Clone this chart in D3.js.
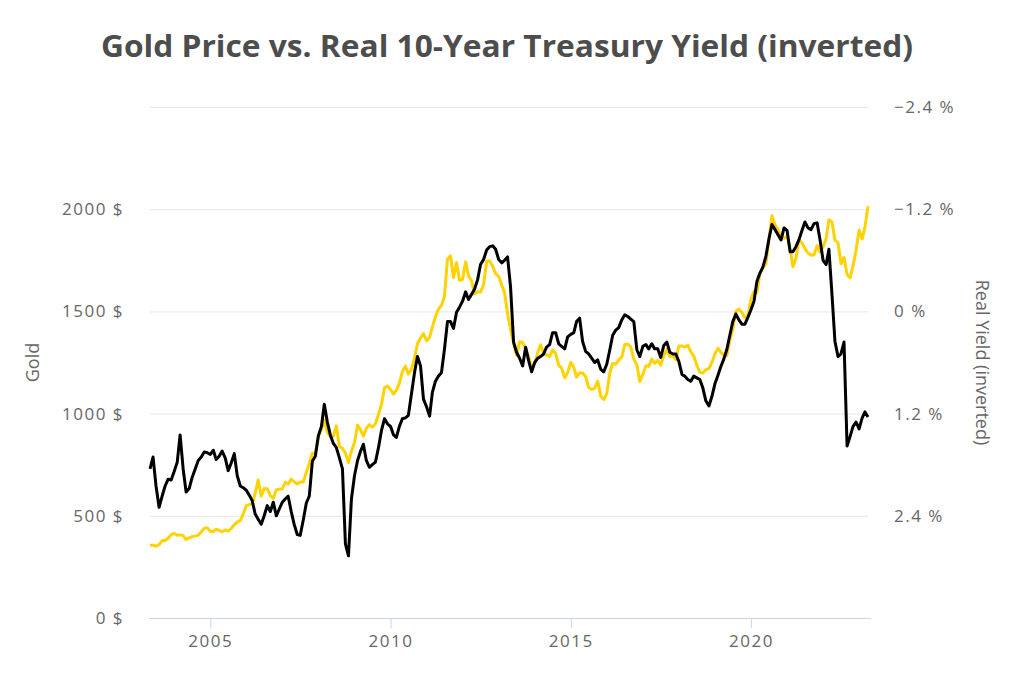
<!DOCTYPE html>
<html>
<head>
<meta charset="utf-8">
<script src="https://cdn.jsdelivr.net/npm/d3@7"></script>
<style>
  body { margin: 0; background: #fff; }
  svg text { font-family: "Open Sans", "Noto Sans", sans-serif; }
</style>
</head>
<body>
<div id="chart"></div>
<script>
// monthly points, May 2003 .. Apr 2023
const startMonth = '2003-05';
const endMonth = '2023-04';

// gold price, USD / oz
const goldPrice = [
  355.7, 356.4, 351.0, 359.8, 378.9, 378.9, 389.9, 407.6,
  413.8, 404.9, 406.7, 403.3, 383.8, 392.4, 398.1, 400.5, 405.3, 420.5, 439.4, 442.1,
  424.0, 423.4, 434.2, 428.9, 421.9, 430.7, 424.5, 437.9, 456.0, 469.9, 476.7, 509.8,
  549.9, 555.0, 557.1, 610.6, 675.4, 596.2, 633.7, 632.6, 598.2, 585.8, 627.8, 629.8,
  631.2, 664.8, 654.9, 679.4, 666.9, 655.5, 665.3, 665.4, 712.7, 754.6, 806.3, 803.2,
  889.6, 922.3, 968.4, 909.7, 888.7, 889.5, 939.8, 839.0, 829.9, 806.6, 760.9, 816.1,
  858.7, 943.2, 924.3, 890.2, 928.6, 945.7, 934.2, 949.4, 996.6, 1043.2, 1127.0, 1134.7,
  1118.0, 1095.4, 1113.3, 1148.7, 1205.4, 1232.9, 1193.0, 1215.8, 1271.0, 1342.0, 1369.9, 1391.0,
  1356.4, 1372.7, 1424.0, 1473.8, 1510.4, 1528.7, 1572.8, 1755.8, 1771.9, 1665.2, 1739.0, 1652.3,
  1656.1, 1742.6, 1673.8, 1650.1, 1585.5, 1596.7, 1594.3, 1630.3, 1744.8, 1746.6, 1721.6, 1684.8,
  1671.9, 1627.6, 1593.1, 1487.9, 1414.0, 1343.4, 1285.5, 1351.7, 1348.6, 1316.6, 1275.8, 1221.5,
  1244.3, 1299.6, 1336.1, 1299.0, 1287.5, 1279.1, 1310.6, 1295.1, 1236.6, 1222.5, 1175.3, 1200.6,
  1250.8, 1227.1, 1178.6, 1198.9, 1198.6, 1181.5, 1128.3, 1117.9, 1124.8, 1159.3, 1085.7, 1068.3,
  1097.9, 1199.5, 1245.1, 1242.3, 1260.9, 1276.4, 1336.7, 1340.2, 1326.6, 1266.6, 1238.4, 1157.4,
  1192.1, 1234.2, 1231.4, 1266.9, 1246.0, 1260.3, 1236.8, 1283.0, 1314.1, 1279.5, 1281.9, 1264.5,
  1331.3, 1330.7, 1324.7, 1334.8, 1303.5, 1281.6, 1237.7, 1201.7, 1198.4, 1215.4, 1220.7, 1250.4,
  1291.8, 1320.1, 1300.9, 1285.9, 1283.7, 1359.0, 1412.9, 1500.4, 1510.6, 1494.8, 1470.0, 1479.1,
  1560.7, 1597.1, 1591.9, 1683.2, 1715.9, 1732.2, 1847.0, 1968.6, 1921.9, 1900.3, 1866.3, 1858.4,
  1867.0, 1808.2, 1718.2, 1760.0, 1850.3, 1834.6, 1807.8, 1785.3, 1775.1, 1776.9, 1821.3, 1790.4,
  1816.0, 1856.3, 1947.8, 1937.4, 1848.5, 1836.6, 1732.7, 1764.6, 1680.6, 1664.5, 1725.1, 1797.6,
  1898.7, 1854.4, 1912.7, 2015.0
];

// real 10-year treasury yield, %
const realYield = [
  1.85, 1.71, 2.05, 2.30, 2.17, 2.05, 1.97, 1.98,
  1.88, 1.77, 1.45, 1.85, 2.12, 2.08, 1.95, 1.85, 1.75, 1.71, 1.65, 1.66,
  1.68, 1.63, 1.74, 1.70, 1.64, 1.72, 1.87, 1.78, 1.67, 1.93, 2.05, 2.07,
  2.10, 2.16, 2.22, 2.38, 2.44, 2.50, 2.40, 2.28, 2.35, 2.24, 2.40, 2.32,
  2.24, 2.20, 2.17, 2.35, 2.50, 2.62, 2.63, 2.45, 2.25, 2.17, 1.76, 1.70,
  1.46, 1.35, 1.09, 1.30, 1.45, 1.55, 1.60, 1.72, 1.85, 2.73, 2.87, 2.20,
  1.93, 1.75, 1.65, 1.56, 1.75, 1.83, 1.80, 1.77, 1.60, 1.40, 1.26, 1.32,
  1.35, 1.45, 1.48, 1.35, 1.26, 1.25, 1.22, 0.97, 0.72, 0.53, 0.64, 1.03,
  1.12, 1.23, 0.95, 0.82, 0.76, 0.72, 0.45, 0.12, 0.12, 0.20, 0.01, -0.05,
  -0.12, -0.23, -0.14, -0.20, -0.26, -0.37, -0.55, -0.61, -0.72, -0.76, -0.77, -0.73,
  -0.61, -0.57, -0.60, -0.64, -0.29, 0.36, 0.48, 0.55, 0.64, 0.42, 0.58, 0.71,
  0.60, 0.55, 0.53, 0.50, 0.42, 0.39, 0.25, 0.25, 0.38, 0.41, 0.44, 0.30,
  0.27, 0.25, 0.12, 0.08, 0.35, 0.47, 0.50, 0.55, 0.60, 0.57, 0.68, 0.71,
  0.62, 0.45, 0.28, 0.22, 0.19, 0.10, 0.04, 0.06, 0.09, 0.12, 0.45, 0.53,
  0.41, 0.39, 0.44, 0.38, 0.44, 0.44, 0.54, 0.40, 0.36, 0.48, 0.50, 0.50,
  0.59, 0.74, 0.76, 0.80, 0.82, 0.76, 0.78, 0.80, 0.90, 1.05, 1.11, 1.00,
  0.85, 0.75, 0.65, 0.56, 0.45, 0.28, 0.12, 0.03, 0.10, 0.15, 0.15, 0.07,
  -0.02, -0.12, -0.35, -0.45, -0.52, -0.65, -0.85, -1.02, -0.96, -0.90, -0.84, -0.98,
  -0.95, -0.70, -0.70, -0.76, -0.84, -0.95, -1.05, -0.98, -0.96, -1.03, -1.04, -0.84,
  -0.60, -0.55, -0.73, -0.20, 0.35, 0.53, 0.50, 0.36, 1.58, 1.47, 1.35, 1.30,
  1.38, 1.25, 1.18, 1.24
];

const goldTicks = [0, 500, 1000, 1500, 2000];
const yieldTicks = [-2.4, -1.2, 0, 1.2, 2.4];
const yearTicks = [2005, 2010, 2015, 2020];

const parseMonth = d3.timeParse('%Y-%m');
const months = d3.timeMonth.range(parseMonth(startMonth), d3.timeMonth.offset(parseMonth(endMonth), 1));

const width = 1024, height = 686;
const margin = {top: 107, right: 156, bottom: 68, left: 150};
const innerW = width - margin.left - margin.right;
const innerH = height - margin.top - margin.bottom;

const svg = d3.select('#chart').append('svg')
  .attr('width', width)
  .attr('height', height);

svg.append('text')
  .attr('x', 507)
  .attr('y', 57)
  .attr('text-anchor', 'middle')
  .attr('font-size', 31)
  .attr('font-weight', 700)
  .attr('fill', '#4d4d4d')
  .attr('textLength', 812)
  .attr('lengthAdjust', 'spacingAndGlyphs')
  .text('Gold Price vs. Real 10-Year Treasury Yield (inverted)');

const g = svg.append('g').attr('transform', `translate(${margin.left},${margin.top})`);

const x = d3.scaleTime()
  .domain(d3.extent(months))
  .range([0, innerW]);

const yGold = d3.scaleLinear().domain([0, 2500]).range([innerH, 0]);
const yYield = d3.scaleLinear().domain([3.6, -2.4]).range([innerH, 0]);

// gridlines
g.append('g')
  .selectAll('line')
  .data([500, 1000, 1500, 2000, 2500])
  .join('line')
  .attr('x1', 0)
  .attr('x2', innerW)
  .attr('y1', d => yGold(d) + 0.5)
  .attr('y2', d => yGold(d) + 0.5)
  .attr('stroke', '#e6e6e6')
  .attr('stroke-width', 1);

// x axis
const xAxis = d3.axisBottom(x)
  .tickValues(yearTicks.map(y => new Date(y, 0, 1)))
  .tickFormat(d3.timeFormat('%Y'))
  .tickSize(10)
  .tickSizeOuter(0)
  .tickPadding(6);

const xAxisG = g.append('g')
  .attr('transform', `translate(0,${innerH + 0.5})`)
  .call(xAxis);
xAxisG.select('.domain').attr('stroke', '#ccd6eb').attr('d', `M-1,0H${innerW + 3}`);
xAxisG.selectAll('.tick line').attr('stroke', '#ccd6eb');
xAxisG.selectAll('.tick text')
  .attr('fill', '#666')
  .attr('font-size', 17)
  .attr('letter-spacing', 1.5);

// left axis
const yLeft = d3.axisLeft(yGold)
  .tickValues(goldTicks)
  .tickFormat(d => `${d} $`)
  .tickSize(0)
  .tickPadding(26);
const yLeftG = g.append('g').call(yLeft);
yLeftG.select('.domain').remove();
yLeftG.selectAll('.tick text')
  .attr('fill', '#666')
  .attr('font-size', 17)
  .attr('letter-spacing', 1.5)
  .attr('dy', '0.32em');

// right axis
const yRight = d3.axisRight(yYield)
  .tickValues(yieldTicks)
  .tickFormat(d => `${d < 0 ? '\u2212' : ''}${Math.abs(d)} %`)
  .tickSize(0)
  .tickPadding(26);
const yRightG = g.append('g')
  .attr('transform', `translate(${innerW},0)`)
  .call(yRight);
yRightG.select('.domain').remove();
yRightG.selectAll('.tick text')
  .attr('fill', '#666')
  .attr('font-size', 17)
  .attr('letter-spacing', 1.5)
  .attr('dy', '0.32em');

// axis titles
svg.append('text')
  .attr('transform', `translate(39,${margin.top + innerH / 2}) rotate(-90)`)
  .attr('text-anchor', 'middle')
  .attr('fill', '#666')
  .attr('font-size', 18)
  .text('Gold');

svg.append('text')
  .attr('transform', `translate(976,${margin.top + innerH / 2}) rotate(90)`)
  .attr('text-anchor', 'middle')
  .attr('fill', '#666')
  .attr('font-size', 18)
  .text('Real Yield (inverted)');

// lines
const goldLine = d3.line()
  .x((d, i) => x(months[i]))
  .y(d => yGold(d));

const yieldLine = d3.line()
  .x((d, i) => x(months[i]))
  .y(d => yYield(d));

g.append('path')
  .datum(goldPrice)
  .attr('fill', 'none')
  .attr('stroke', '#ffd200')
  .attr('stroke-width', 3)
  .attr('stroke-linejoin', 'round')
  .attr('d', goldLine);

g.append('path')
  .datum(realYield)
  .attr('fill', 'none')
  .attr('stroke', '#000')
  .attr('stroke-width', 3)
  .attr('stroke-linejoin', 'round')
  .attr('d', yieldLine);
</script>
</body>
</html>
